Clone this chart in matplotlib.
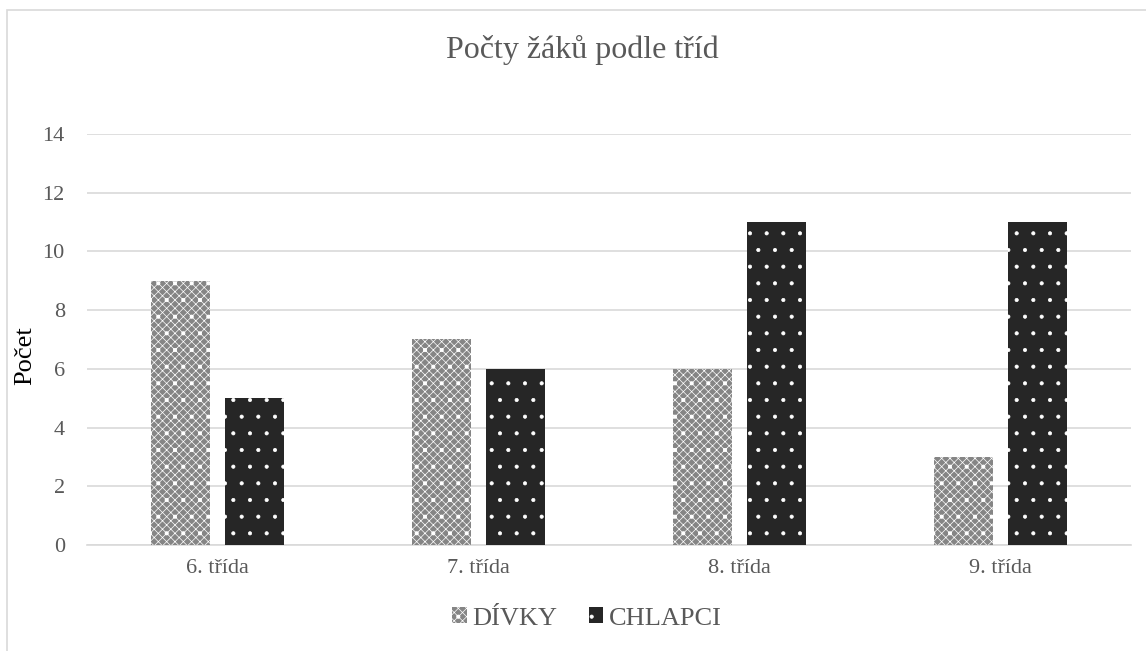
import matplotlib
matplotlib.use("Agg")
import matplotlib.pyplot as plt
from matplotlib.patches import Rectangle
import numpy as np

categories = ["6. třída", "7. třída", "8. třída", "9. třída"]
divky = [9, 7, 6, 3]
chlapci = [5, 6, 11, 11]
series_labels = ["DÍVKY", "CHLAPCI"]
yticks = [0, 2, 4, 6, 8, 10, 12, 14]

GRAY_TXT = "#595959"
GRID = "#d9d9d9"

plt.rcParams["font.family"] = ["Liberation Serif", "DejaVu Serif"]
plt.rcParams["hatch.color"] = "white"
plt.rcParams["hatch.linewidth"] = 0.5

fig = plt.figure(figsize=(11.46, 6.51), dpi=100)
ax = fig.add_axes([0.0759, 0.1628, 0.9111, 0.6314])

# outer chart frame (only top and left edge visible in the crop)
fig.add_artist(Rectangle((7 / 1146, -0.1), 1.2, 1.1 - 10 / 651,
                         transform=fig.transFigure, fill=False,
                         edgecolor=GRID, linewidth=1.2))

x = np.arange(len(categories))
w = 0.226
off = 0.142
b1 = ax.bar(x - off, divky, w, color="#858585", hatch="xxxx.", linewidth=0,
            label=series_labels[0], zorder=3)
b2 = ax.bar(x + off, chlapci, w, color="#262626", hatch=".", linewidth=0,
            label=series_labels[1], zorder=3)

ax.set_xlim(-0.5, len(categories) - 0.5)
ax.set_ylim(0, 14)
ax.set_yticks(yticks)
ax.set_xticks(x)
ax.set_xticklabels(categories)
ax.tick_params(length=0, labelsize=16, labelcolor=GRAY_TXT)
ax.tick_params(axis="y", pad=16)
ax.tick_params(axis="x", pad=10)
ax.grid(axis="y", color=GRID, linewidth=1.2, zorder=0)
ax.set_axisbelow(True)
for s in ["top", "right", "left"]:
    ax.spines[s].set_visible(False)
ax.spines["bottom"].set_color(GRID)
ax.spines["bottom"].set_linewidth(1.2)

ax.set_ylabel("Počet", fontsize=19, color="black")
ax.yaxis.set_label_coords(-0.049, 0.46)
fig.text(0.508, 0.923, "Počty žáků podle tříd", ha="center", va="center",
         fontsize=23, color=GRAY_TXT)

leg = fig.legend(handles=[b1, b2], loc="center", bbox_to_anchor=(0.512, 0.05),
                 ncol=2, frameon=False, fontsize=19, labelcolor=GRAY_TXT,
                 handlelength=0.55, handleheight=0.55, handletextpad=0.2,
                 columnspacing=1.2)

fig.savefig("out.png", dpi=100)
